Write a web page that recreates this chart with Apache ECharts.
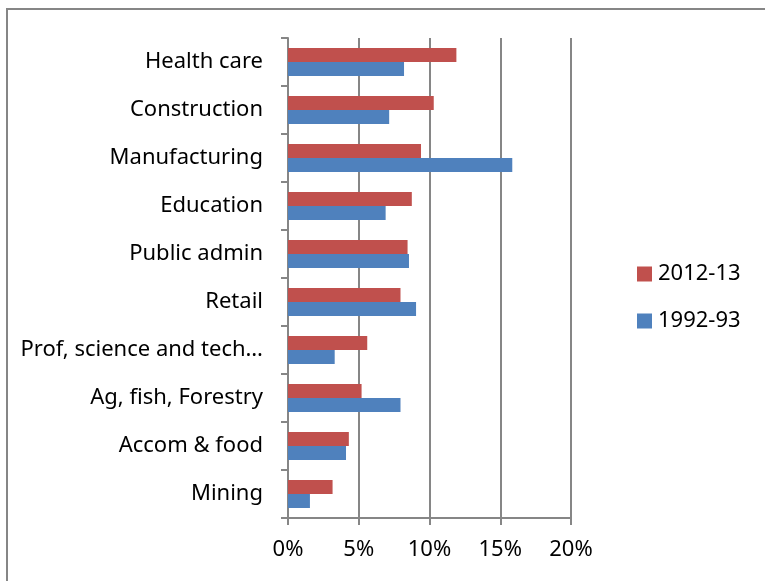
<!DOCTYPE html>
<html>
<head>
<meta charset="utf-8">
<script src="https://cdn.jsdelivr.net/npm/echarts@6/dist/echarts.min.js"></script>
<style>
  html, body { margin: 0; padding: 0; background: #fff; }
  #chart { width: 765px; height: 581px; }
</style>
</head>
<body>
<div id="chart"></div>
<script>
// Industry categories, top to bottom
const industries = [
  'Health care', 'Construction', 'Manufacturing', 'Education', 'Public admin',
  'Retail', 'Prof, science and tech\u2026', 'Ag, fish, Forestry', 'Accom & food', 'Mining'
];
// Share of employment (%) by period
const share2012 = [11.9, 10.3, 9.4, 8.75, 8.45, 7.95, 5.6, 5.2, 4.3, 3.15];
const share1992 = [8.2, 7.15, 15.85, 6.9, 8.55, 9.05, 3.3, 7.95, 4.1, 1.55];
const seriesNames = ['2012-13', '1992-93'];
const xTicks = [0, 5, 10, 15, 20];

const gray = '#868686';
const font = '"Noto Sans", sans-serif';
const fs = 22;

const chart = echarts.init(document.getElementById('chart'), null, { renderer: 'canvas' });
chart.setOption({
  animation: false,
  backgroundColor: '#fff',
  graphic: [{
    type: 'rect',
    shape: { x: 7, y: 9, width: 800, height: 620 },
    style: { fill: 'none', stroke: gray, lineWidth: 2 },
    silent: true
  }],
  legend: {
    orient: 'vertical',
    left: 632,
    top: 258,
    itemWidth: 15,
    itemHeight: 15,
    itemGap: 25,
    icon: 'rect',
    data: seriesNames,
    textStyle: { fontFamily: font, fontSize: fs, color: '#000', padding: [0, 0, 0, 1] }
  },
  grid: { left: 288, right: 194, top: 38, bottom: 63, containLabel: false },
  xAxis: {
    type: 'value',
    min: xTicks[0],
    max: xTicks[xTicks.length - 1],
    interval: 5,
    axisLine: { show: true, lineStyle: { color: gray, width: 2 } },
    axisTick: { show: true, length: 7, lineStyle: { color: gray, width: 2 } },
    axisLabel: {
      fontFamily: font, fontSize: fs, color: '#000', margin: 21,
      formatter: v => v + '%'
    },
    splitLine: { show: true, lineStyle: { color: gray, width: 2 } }
  },
  yAxis: {
    type: 'category',
    inverse: true,
    data: industries,
    axisLine: { show: true, lineStyle: { color: gray, width: 2 } },
    axisTick: { show: true, length: 7, lineStyle: { color: gray, width: 2 } },
    axisLabel: { fontFamily: font, fontSize: fs, color: '#000', margin: 25, padding: [2, 0, 0, 0] }
  },
  series: [
    {
      name: seriesNames[0], type: 'bar', data: share2012,
      barWidth: 14, barGap: '0%',
      itemStyle: { color: '#C0504D' }
    },
    {
      name: seriesNames[1], type: 'bar', data: share1992,
      barWidth: 14, barGap: '0%',
      itemStyle: { color: '#4F81BD' }
    }
  ]
});
</script>
</body>
</html>
